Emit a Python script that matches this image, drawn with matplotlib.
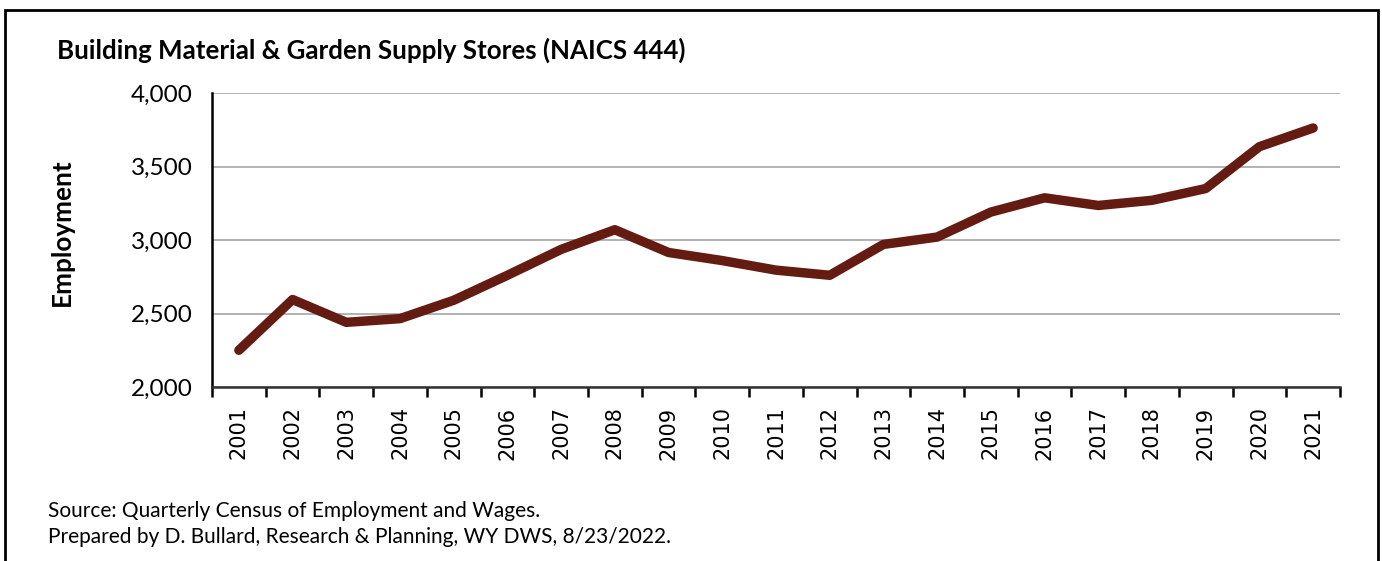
import numpy as np
import matplotlib.pyplot as plt
from matplotlib.patches import Rectangle
from matplotlib.ticker import FuncFormatter, FixedLocator

# Annual employment, Building Material & Garden Supply Stores (NAICS 444)
years = [str(y) for y in range(2001, 2022)]
employment = [2250, 2595, 2440, 2465, 2590, 2760, 2936, 3070, 2915, 2860,
              2795, 2760, 2970, 3020, 3190, 3287, 3235, 3270, 3350, 3635, 3762]

title = "Building Material & Garden Supply Stores (NAICS 444)"
ylabel = "Employment"
footer = ["Source: Quarterly Census of Employment and Wages.",
          "Prepared by D. Bullard, Research & Planning, WY DWS, 8/23/2022."]

text_font = ["Lato", "DejaVu Sans"]

W, H = 1382, 561
fig = plt.figure(figsize=(W / 100, H / 100), dpi=100)
ax = fig.add_axes([212 / W, 1 - 387 / H, (1340 - 212) / W, (387 - 93) / H])

x = np.arange(len(years))
ax.plot(x, employment, color="#641c12", lw=6.8, solid_capstyle="round",
        solid_joinstyle="round", zorder=3)

ax.set_xlim(-0.5, len(years) - 0.5)
ax.set_ylim(2000, 4000)
ax.set_yticks(np.arange(2000, 4001, 500))
ax.yaxis.set_major_formatter(FuncFormatter(lambda v, p: f"{int(v):,}"))
ax.grid(axis="y", color="#a6a6a6", lw=1.2)
ax.set_axisbelow(True)

# year labels centred on points, tick marks on category boundaries
ax.set_xticks(x)
ax.set_xticklabels(years, rotation=90, fontsize=15, family="DejaVu Sans")
ax.tick_params(axis="x", which="major", length=0, pad=14)
ax.xaxis.set_minor_locator(FixedLocator(np.arange(-0.5, len(years), 1.0)))
ax.tick_params(axis="x", which="minor", length=7, width=1.8, direction="out",
               color="black")
ax.tick_params(axis="y", length=0, pad=14)
for lab in ax.get_yticklabels():
    lab.set_family(text_font)
    lab.set_fontsize(17.5)

for s in ["top", "right"]:
    ax.spines[s].set_visible(False)
ax.spines["left"].set_linewidth(1.8)
ax.spines["bottom"].set_linewidth(1.8)
ax.spines["bottom"].set_color("#333333")

fig.text(57 / W, 1 - 50 / H, title, fontsize=18.6, fontweight="bold",
         family=text_font, va="center", ha="left")
fig.text(62 / W, 1 - 232 / H, ylabel, fontsize=18.8, fontweight="bold",
         family=text_font, rotation=90, va="center", ha="center")
fig.text(48 / W, 1 - 511 / H, footer[0], fontsize=15, family=text_font,
         va="center", ha="left")
fig.text(48 / W, 1 - 537 / H, footer[1], fontsize=15, family=text_font,
         va="center", ha="left")

# outer frame, open at the bottom edge of the image
fig.patches.append(Rectangle((5 / W, -0.05), (1378 - 5) / W, 1.05 - 10 / H,
                             transform=fig.transFigure, fill=False,
                             edgecolor="black", lw=2))

fig.savefig("out.png", dpi=100)
